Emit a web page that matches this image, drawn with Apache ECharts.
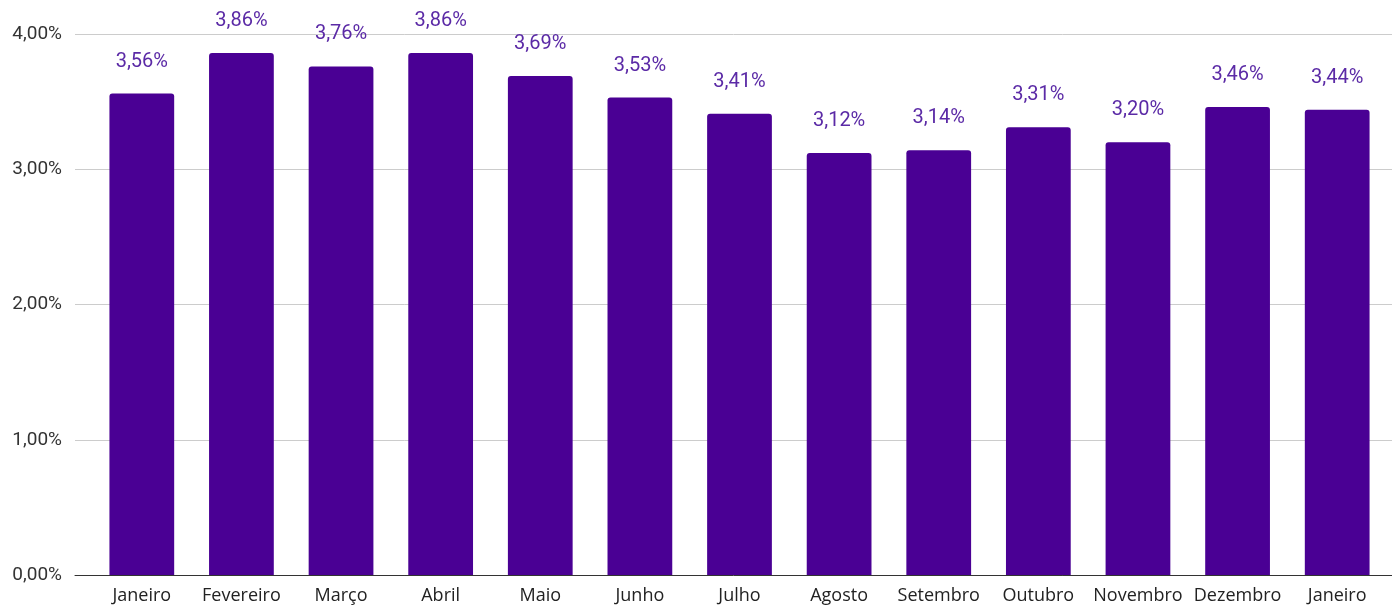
<!DOCTYPE html>
<html><head><meta charset="utf-8">
<script src="https://cdn.jsdelivr.net/npm/echarts@6/dist/echarts.min.js"></script>
<style>html,body{margin:0;padding:0;background:#fff}#c{width:1392px;height:606px}</style>
</head><body><div id="c"></div>
<script>
const categories = ['Janeiro','Fevereiro','Março','Abril','Maio','Junho','Julho','Agosto','Setembro','Outubro','Novembro','Dezembro','Janeiro'];
const values = [3.56,3.86,3.76,3.86,3.69,3.53,3.41,3.12,3.14,3.31,3.20,3.46,3.44];
const yTicks = [0,1,2,3,4];

const fmt = v => v.toFixed(2).replace('.', ',') + '%';
const chart = echarts.init(document.getElementById('c'), null, {renderer:'canvas'});
chart.setOption({
  animation:false,
  grid:[
    {left:75, right:0, top:34, bottom:31},
    {left:92, right:5, top:34, bottom:31}
  ],
  xAxis:[
    {gridIndex:0, type:'value', min:0, max:1, show:true,
     axisLine:{show:true, lineStyle:{color:'#333', width:1}}, axisTick:{show:false},
     axisLabel:{show:false}, splitLine:{show:false}},
    {gridIndex:1, type:'category', data:categories,
     axisLine:{show:false}, axisTick:{show:false},
     axisLabel:{color:'#222', fontFamily:'Open Sans', fontSize:18, margin:12, interval:0}}
  ],
  yAxis:[
    {gridIndex:0, type:'value', min:yTicks[0], max:yTicks[yTicks.length-1], interval:1,
     axisLine:{show:false}, axisTick:{show:false},
     axisLabel:{color:'#333', fontFamily:'Roboto', fontSize:19, margin:13, formatter:fmt},
     splitLine:{lineStyle:{color:'#cccccc', width:1}}},
    {gridIndex:1, type:'value', min:yTicks[0], max:yTicks[yTicks.length-1], interval:1, show:false,
     splitLine:{show:false}}
  ],
  series:[{
    type:'bar', xAxisIndex:1, yAxisIndex:1, data:values,
    barCategoryGap:'35%',
    itemStyle:{color:'#4a0094', borderRadius:[3,3,0,0]},
    label:{show:true, position:'top', distance:22, color:'#5b2aa6', fontFamily:'Roboto', fontSize:20, formatter:p=>fmt(p.value)}
  }]
});
</script></body></html>
